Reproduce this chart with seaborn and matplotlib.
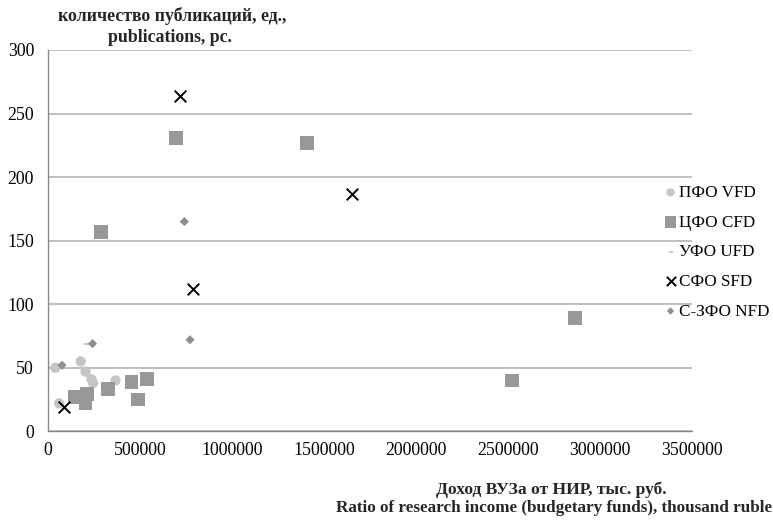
import matplotlib
matplotlib.use("Agg")
import matplotlib.pyplot as plt
import seaborn as sns
import pandas as pd

# Income from research (thousand rubles) vs. number of publications, by federal district
vfd_x = [40000, 178000, 204000, 236000, 245000, 367000, 60000]
vfd_y = [50, 55, 47, 41, 38, 40, 22]

cfd_x = [696000, 1410000, 287000, 2865000, 2520000, 145000, 212000, 204000, 327000, 454000, 539000, 490000]
cfd_y = [231, 227, 157, 89, 40, 27, 29, 22, 33, 39, 41, 25]

ufd_x = [212000]
ufd_y = [69]

sfd_x = [717000, 1652000, 790000, 87000]
sfd_y = [264, 187, 112, 19]

nfd_x = [741000, 772000, 242000, 76000]
nfd_y = [165, 72, 69, 52]

series_labels = ["ПФО VFD", "ЦФО CFD", "УФО UFD", "СФО SFD", "С-ЗФО NFD"]
x_ticks = [0, 500000, 1000000, 1500000, 2000000, 2500000, 3000000, 3500000]
y_ticks = [0, 50, 100, 150, 200, 250, 300]

sns.set_theme(style="white")
plt.rcParams["font.family"] = ["Liberation Serif", "DejaVu Serif"]

FS = 12.8

fig = plt.figure(figsize=(7.73, 5.23), dpi=100)
ax = fig.add_axes([48 / 773, 91.7 / 523, (692 - 48) / 773, (431.3 - 50) / 523])

styles = [
    (vfd_x, vfd_y, dict(marker="o", color="#c5c5c5", s=55, edgecolor="none")),
    (cfd_x, cfd_y, dict(marker="s", color="#989898", s=100, edgecolor="none")),
    (ufd_x, ufd_y, dict(marker="_", color="#c8c8c8", s=20, linewidth=1.5)),
    (sfd_x, sfd_y, dict(marker="x", color="#000000", s=70, linewidth=1.4)),
    (nfd_x, nfd_y, dict(marker="D", color="#8f8f8f", s=22, edgecolor="none")),
]
for (xs, ys, kw), lab in zip(styles, series_labels):
    df = pd.DataFrame({"x": xs, "y": ys})
    sns.scatterplot(data=df, x="x", y="y", ax=ax, label=lab, zorder=3, **kw)

ax.set_xlim(0, 3500000)
ax.set_ylim(0, 300)
ax.set_xticks(x_ticks)
ax.set_xticklabels([str(v) for v in x_ticks])
ax.set_yticks(y_ticks)
ax.set_yticklabels([str(v) for v in y_ticks])
ax.tick_params(axis="both", length=0, labelsize=FS, colors="#000000")
ax.tick_params(axis="x", pad=8)
ax.tick_params(axis="y", pad=10)
ax.set_xlabel("")
ax.set_ylabel("")

ax.yaxis.grid(True, color="#b4b4b4", linewidth=1.2)
ax.xaxis.grid(False)
for side in ("top", "right"):
    ax.spines[side].set_visible(False)
for side in ("left", "bottom"):
    ax.spines[side].set_color("#8a8a8a")
    ax.spines[side].set_linewidth(1.0)
ax.set_axisbelow(True)

leg = ax.legend(
    loc="upper left",
    bbox_to_anchor=(656 / 773, (523 - 178) / 523),
    bbox_transform=fig.transFigure,
    frameon=False,
    fontsize=12.3,
    handletextpad=0.05,
    handlelength=0.9,
    labelspacing=0.8,
    markerscale=0.8,
    borderaxespad=0,
)
for t in leg.get_texts():
    t.set_color("#000000")

fig.text(172 / 773, 1 - 16 / 523, "количество публикаций, ед.,", ha="center", va="center",
         fontsize=FS, fontweight="bold")
fig.text(170 / 773, 1 - 37 / 523, "publications, pc.", ha="center", va="center",
         fontsize=FS, fontweight="bold")
fig.text(551 / 773, 1 - 489.5 / 523, "Доход ВУЗа от НИР, тыс. руб.", ha="center", va="center",
         fontsize=12.6, fontweight="bold")
fig.text(772 / 773, 1 - 508.5 / 523, "Ratio of research income (budgetary funds), thousand ruble",
         ha="right", va="center", fontsize=12.3, fontweight="bold")

fig.savefig("out.png", dpi=100, facecolor="white")
